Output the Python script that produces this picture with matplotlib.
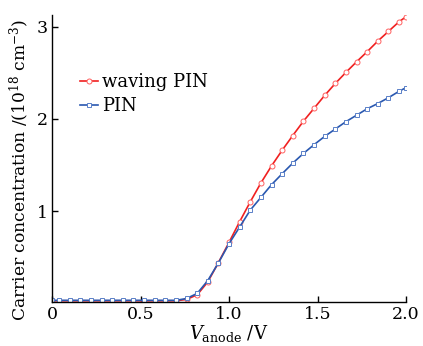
import matplotlib
matplotlib.use("Agg")
import matplotlib.pyplot as plt

x_vals = [0.0, 0.04, 0.10, 0.16, 0.22, 0.28, 0.34, 0.40, 0.46, 0.52, 0.58, 0.64, 0.70,
          0.76, 0.82, 0.88, 0.94, 1.00, 1.06, 1.12, 1.18, 1.24, 1.30, 1.36, 1.42,
          1.48, 1.54, 1.60, 1.66, 1.72, 1.78, 1.84, 1.90, 1.96, 2.00]
waving_pin = [0.025, 0.025, 0.025, 0.025, 0.025, 0.025, 0.025, 0.025, 0.025, 0.025, 0.025, 0.025, 0.025,
              0.04, 0.09, 0.23, 0.44, 0.66, 0.885, 1.10, 1.305, 1.49, 1.66, 1.82, 1.975,
              2.115, 2.255, 2.385, 2.505, 2.62, 2.73, 2.845, 2.95, 3.055, 3.11]
pin = [0.03, 0.03, 0.03, 0.03, 0.03, 0.03, 0.03, 0.03, 0.03, 0.03, 0.03, 0.03, 0.03,
       0.05, 0.105, 0.245, 0.437, 0.645, 0.827, 1.01, 1.148, 1.286, 1.405, 1.52, 1.625,
       1.72, 1.81, 1.89, 1.97, 2.04, 2.11, 2.167, 2.23, 2.30, 2.34]
x_ticks = [0, 0.5, 1.0, 1.5, 2.0]
x_ticklabels = ["0", "0.5", "1.0", "1.5", "2.0"]
y_ticks = [1, 2, 3]
y_ticklabels = ["1", "2", "3"]

plt.rcParams['font.family'] = ['DejaVu Serif']
plt.rcParams['mathtext.fontset'] = 'dejavuserif'

fig = plt.figure(figsize=(4.23, 3.46), dpi=100)
ax = fig.add_axes([0.123, 0.128, 0.837, 0.829])

ax.plot(x_vals, waving_pin, color='#f02020', lw=1.2, marker='o', ms=3.6,
        mfc='white', mec='#ff6060', mew=0.7, label='waving PIN')
ax.plot(x_vals, pin, color='#2a58b0', lw=1.2, marker='s', ms=3.4,
        mfc='white', mec='#5a80c8', mew=0.7, label='PIN')

ax.set_xlim(0, 2.0)
ax.set_ylim(0.015, 3.13)
ax.set_xticks(x_ticks)
ax.set_xticklabels(x_ticklabels)
ax.set_yticks(y_ticks)
ax.set_yticklabels(y_ticklabels)
ax.tick_params(direction='in', length=4, width=1, labelsize=12.5, pad=3)
ax.spines['top'].set_visible(False)
ax.spines['right'].set_visible(False)
for s in ('left', 'bottom'):
    ax.spines[s].set_linewidth(1.0)

ax.set_xlabel(r'$V_{\mathrm{anode}}$ /V', fontsize=13, labelpad=0)
ax.set_ylabel(r'Carrier concentration /(10$^{18}$ cm$^{-3}$)', fontsize=12.3)
ax.yaxis.set_label_coords(-0.06, 0.46)

ax.legend(loc='upper left', bbox_to_anchor=(0.043, 0.84), frameon=False, fontsize=13,
          handlelength=1.0, handletextpad=0.25, labelspacing=0.3, borderpad=0.2)

fig.savefig('out.png', dpi=100)
